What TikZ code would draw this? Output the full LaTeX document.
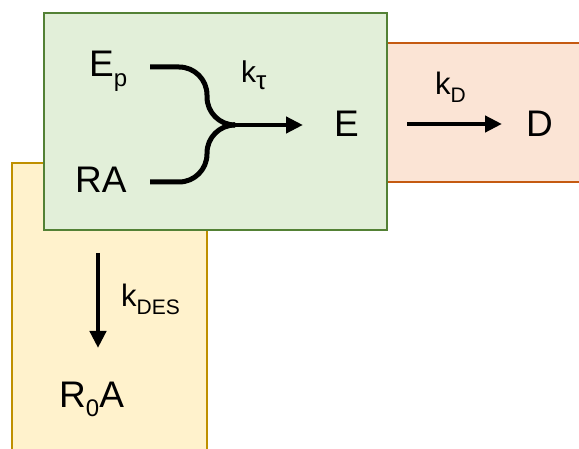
\documentclass[tikz,border=0pt]{standalone}
\usepackage{fontspec}
\setmainfont{Liberation Sans}
\usetikzlibrary{arrows.meta}
\definecolor{gfill}{HTML}{E2EFD9}
\definecolor{gdraw}{HTML}{538135}
\definecolor{ofill}{HTML}{FBE4D5}
\definecolor{odraw}{HTML}{C55A11}
\definecolor{yfill}{HTML}{FFF2CC}
\definecolor{ydraw}{HTML}{BF9000}
\newcommand{\sbmain}[1]{\raisebox{-0.26em}{\fontsize{24}{26}\selectfont #1}}
\newcommand{\sblab}[1]{\raisebox{-0.24em}{\fontsize{21}{23}\selectfont #1}}
\tikzset{
  big/.style={inner sep=0pt, anchor=base west, font=\fontsize{37}{40}\selectfont},
  lab/.style={inner sep=0pt, anchor=base west, font=\fontsize{31}{34}\selectfont},
  flow/.style={line width=5pt, rounded corners=28pt},
  arr/.style={line width=4.5pt, -{Triangle[length=17pt,width=16pt]}},
}
\begin{document}
\begin{tikzpicture}[x=1pt,y=-1pt]
\useasboundingbox (0,0) rectangle (579,449);
\clip (0,0) rectangle (579,449);
% boxes
\draw[fill=yfill, draw=ydraw, line width=2pt] (12,163) rectangle (207,470);
\draw[fill=ofill, draw=odraw, line width=2pt] (300,43) rectangle (600,182);
\draw[fill=gfill, draw=gdraw, line width=2pt] (44,13) rectangle (387,230);
% texts
\node[big] (Ep) at (89,77) {E\sbmain{p}};
\node[big] (RA) at (75,193) {RA};
\node[big] (E) at (334,137) {E};
\node[big] (D) at (526,137) {D};
\node[big] (R0A) at (59,407) {R\sbmain{0}A};
\node[lab, font=\fontsize{30}{32}\selectfont] (kt) at (241,83) {k\raisebox{-0.22em}{\fontsize{26}{28}\selectfont τ}};
\node[lab] (kD) at (435,95) {k\sblab{D}};
\node[lab] (kDES) at (121,307) {k\sblab{DES}};
% connectors
\coordinate (EpS) at (150,67);
\coordinate (RAS) at (150,182);
\coordinate (J) at (233,125);
\coordinate (Jx) at (207,125);
\draw[flow] (EpS) -- (207,67) -- (Jx) -- (J);
\draw[flow] (RAS) -- (207,182) -- (Jx) -- (J);
\draw[arr] (J) -- (303,125);
\draw[arr] (407,124) -- (502,124);
\draw[arr] (98,253) -- (98,348);
\end{tikzpicture}
\end{document}
